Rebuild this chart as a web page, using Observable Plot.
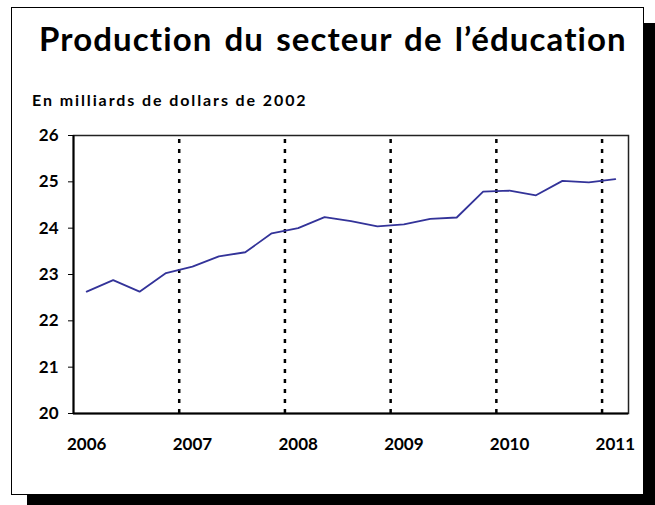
<!DOCTYPE html>
<html>
<head>
<meta charset="utf-8">
<script src="https://cdn.jsdelivr.net/npm/d3@7"></script>
<script src="https://cdn.jsdelivr.net/npm/@observablehq/plot@0.6"></script>
<style>
  html, body { margin: 0; padding: 0; background: #fff; overflow: hidden; }
  #wrap { position: relative; width: 655px; height: 505px; overflow: hidden; font-family: Lato, "DejaVu Sans", sans-serif; }
  #frame { position: absolute; left: 11px; top: 7px; width: 631px; height: 486px; border: 1.5px solid #000; background: #fff; box-shadow: 16px 16px 0 #000; }
  #title { position: absolute; left: 39px; top: 18px; font-size: 33px; font-weight: bold; letter-spacing: 1.1px; word-spacing: 3px; white-space: nowrap; line-height: 40px; color: #000; }
  #subtitle { position: absolute; left: 32px; top: 90px; font-size: 16px; font-weight: bold; letter-spacing: 1.9px; white-space: nowrap; line-height: 20px; color: #000; }
  #chart { position: absolute; left: 0; top: 115px; }
</style>
</head>
<body>
<div id="wrap">
  <div id="frame"></div>
  <div id="title">Production du secteur de l’éducation</div>
  <div id="subtitle">En milliards de dollars de 2002</div>
  <div id="chart"></div>
</div>
<script>
const quarters = ["2006T1","2006T2","2006T3","2006T4",
                  "2007T1","2007T2","2007T3","2007T4",
                  "2008T1","2008T2","2008T3","2008T4",
                  "2009T1","2009T2","2009T3","2009T4",
                  "2010T1","2010T2","2010T3","2010T4",
                  "2011T1"];
const values = [22.63, 22.88, 22.63, 23.03,
                23.17, 23.39, 23.48, 23.89,
                24.00, 24.24, 24.15, 24.04,
                24.08, 24.20, 24.23, 24.79,
                24.81, 24.71, 25.02, 24.99,
                25.06];
const yTicks = [20, 21, 22, 23, 24, 25, 26];

const data = quarters.map((q, i) => ({i, q, v: values[i]}));
const yearStarts = data.filter(d => d.q.endsWith("T1")).map(d => d.i);
const yearBreaks = yearStarts.filter(i => i > 0).map(i => i - 0.5);

const chart = Plot.plot({
  width: 655,
  height: 350,
  marginLeft: 73,
  marginRight: 27,
  marginTop: 20,
  marginBottom: 52,
  style: {fontFamily: "Lato, 'DejaVu Sans', sans-serif", fontWeight: "bold", color: "#000", background: "transparent", overflow: "visible"},
  x: {type: "linear", domain: [-0.5, quarters.length - 0.5]},
  y: {domain: [20, 26]},
  marks: [
    Plot.ruleX(yearBreaks, {x: d => d, y1: 20, y2: 26, stroke: "#000", strokeWidth: 2.5, strokeDasharray: "4,6"}),
    Plot.frame({stroke: "#222", strokeWidth: 1.5}),
    Plot.ruleX([-0.5], {stroke: "#000", strokeWidth: 2}),
    Plot.ruleY([20], {stroke: "#000", strokeWidth: 2}),
    Plot.axisY({ticks: yTicks, tickSize: 5, tickPadding: 10, fontSize: 17, fontWeight: "bold", label: null, tickFormat: d => String(d)}),
    Plot.axisX({ticks: yearStarts, tickSize: 0, tickPadding: 24, fontSize: 17, fontWeight: "bold", label: null, tickFormat: i => quarters[i].slice(0, 4), style: {letterSpacing: "0.6px"}}),
    Plot.line(data, {x: "i", y: "v", stroke: "#333399", strokeWidth: 1.8})
  ]
});
document.getElementById("chart").appendChild(chart);
</script>
</body>
</html>
